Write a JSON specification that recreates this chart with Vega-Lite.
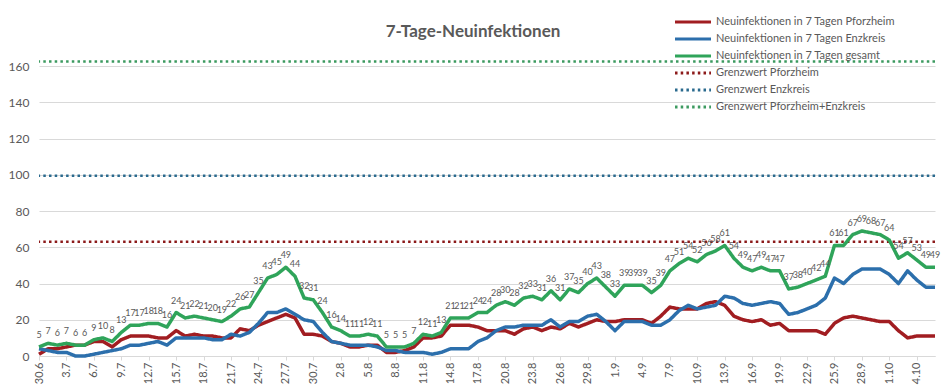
{
  "$schema": "https://vega.github.io/schema/vega-lite/v6.json",
  "width": 896,
  "height": 308,
  "autosize": {"type": "none"},
  "padding": {"left": 39, "top": 48, "right": 7, "bottom": 33},
  "background": "white",
  "title": {"text": "7-Tage-Neuinfektionen", "fontSize": 17, "font": "Lato", "fontWeight": "bold", "color": "#595959", "anchor": "middle", "frame": "group", "dx": -14, "offset": -28},
  "config": {
    "view": {"stroke": null},
    "font": "Lato",
    "axis": {"labelFont": "Lato", "labelColor": "#595959", "labelFontSize": 11, "title": null}
  },
  "datasets": {
    "main": [
      {"d":"30.6","P":1,"E":4,"G":5},{"d":"1.7","P":4,"E":3,"G":7},{"d":"2.7","P":4,"E":2,"G":6},{"d":"3.7","P":5,"E":2,"G":7},{"d":"4.7","P":6,"E":0,"G":6},{"d":"5.7","P":6,"E":0,"G":6},{"d":"6.7","P":8,"E":1,"G":9},{"d":"7.7","P":8,"E":2,"G":10},{"d":"8.7","P":5,"E":3,"G":8},{"d":"9.7","P":9,"E":4,"G":13},
      {"d":"10.7","P":11,"E":6,"G":17},{"d":"11.7","P":11,"E":6,"G":17},{"d":"12.7","P":11,"E":7,"G":18},{"d":"13.7","P":10,"E":8,"G":18},{"d":"14.7","P":10,"E":6,"G":16},{"d":"15.7","P":14,"E":10,"G":24},{"d":"16.7","P":11,"E":10,"G":21},{"d":"17.7","P":12,"E":10,"G":22},{"d":"18.7","P":11,"E":10,"G":21},{"d":"19.7","P":11,"E":9,"G":20},
      {"d":"20.7","P":10,"E":9,"G":19},{"d":"21.7","P":10,"E":12,"G":22},{"d":"22.7","P":15,"E":11,"G":26},{"d":"23.7","P":14,"E":13,"G":27},{"d":"24.7","P":17,"E":18,"G":35},{"d":"25.7","P":19,"E":24,"G":43},{"d":"26.7","P":21,"E":24,"G":45},{"d":"27.7","P":23,"E":26,"G":49},{"d":"28.7","P":21,"E":23,"G":44},{"d":"29.7","P":12,"E":20,"G":32},
      {"d":"30.7","P":12,"E":19,"G":31},{"d":"31.7","P":11,"E":13,"G":24},{"d":"1.8","P":8,"E":8,"G":16},{"d":"2.8","P":7,"E":7,"G":14},{"d":"3.8","P":5,"E":6,"G":11},{"d":"4.8","P":5,"E":6,"G":11},{"d":"5.8","P":6,"E":6,"G":12},{"d":"6.8","P":6,"E":5,"G":11},{"d":"7.8","P":2,"E":3,"G":5},{"d":"8.8","P":2,"E":3,"G":5},
      {"d":"9.8","P":3,"E":2,"G":5},{"d":"10.8","P":5,"E":2,"G":7},{"d":"11.8","P":10,"E":2,"G":12},{"d":"12.8","P":10,"E":1,"G":11},{"d":"13.8","P":11,"E":2,"G":13},{"d":"14.8","P":17,"E":4,"G":21},{"d":"15.8","P":17,"E":4,"G":21},{"d":"16.8","P":17,"E":4,"G":21},{"d":"17.8","P":16,"E":8,"G":24},{"d":"18.8","P":14,"E":10,"G":24},
      {"d":"19.8","P":14,"E":14,"G":28},{"d":"20.8","P":14,"E":16,"G":30},{"d":"21.8","P":12,"E":16,"G":28},{"d":"22.8","P":15,"E":17,"G":32},{"d":"23.8","P":16,"E":17,"G":33},{"d":"24.8","P":14,"E":17,"G":31},{"d":"25.8","P":16,"E":20,"G":36},{"d":"26.8","P":15,"E":16,"G":31},{"d":"27.8","P":18,"E":19,"G":37},{"d":"28.8","P":16,"E":19,"G":35},
      {"d":"29.8","P":18,"E":22,"G":40},{"d":"30.8","P":20,"E":23,"G":43},{"d":"31.8","P":19,"E":19,"G":38},{"d":"1.9","P":19,"E":14,"G":33},{"d":"2.9","P":20,"E":19,"G":39},{"d":"3.9","P":20,"E":19,"G":39},{"d":"4.9","P":20,"E":19,"G":39},{"d":"5.9","P":18,"E":17,"G":35},{"d":"6.9","P":22,"E":17,"G":39},{"d":"7.9","P":27,"E":20,"G":47},
      {"d":"8.9","P":26,"E":25,"G":51},{"d":"9.9","P":26,"E":28,"G":54},{"d":"10.9","P":26,"E":26,"G":52},{"d":"11.9","P":29,"E":27,"G":56},{"d":"12.9","P":30,"E":28,"G":58},{"d":"13.9","P":28,"E":33,"G":61},{"d":"14.9","P":22,"E":32,"G":54},{"d":"15.9","P":20,"E":29,"G":49},{"d":"16.9","P":19,"E":28,"G":47},{"d":"17.9","P":20,"E":29,"G":49},
      {"d":"18.9","P":17,"E":30,"G":47},{"d":"19.9","P":18,"E":29,"G":47},{"d":"20.9","P":14,"E":23,"G":37},{"d":"21.9","P":14,"E":24,"G":38},{"d":"22.9","P":14,"E":26,"G":40},{"d":"23.9","P":14,"E":28,"G":42},{"d":"24.9","P":12,"E":32,"G":44},{"d":"25.9","P":18,"E":43,"G":61},{"d":"26.9","P":21,"E":40,"G":61},{"d":"27.9","P":22,"E":45,"G":67},
      {"d":"28.9","P":21,"E":48,"G":69},{"d":"29.9","P":20,"E":48,"G":68},{"d":"30.9","P":19,"E":48,"G":67},{"d":"1.10","P":19,"E":45,"G":64},{"d":"2.10","P":14,"E":40,"G":54},{"d":"3.10","P":10,"E":47,"G":57},{"d":"4.10","P":11,"E":42,"G":53},{"d":"5.10","P":11,"E":38,"G":49},{"d":"6.10","P":11,"E":38,"G":49}
    ],
    "grenz": [
      {"s": "GP", "v": 63},
      {"s": "GE", "v": 99.5},
      {"s": "GG", "v": 162.5}
    ]
  },
  "layer": [
    {
      "data": {"name": "grenz"},
      "mark": {"type": "rule", "strokeWidth": 2.5},
      "encoding": {
        "y": {"field": "v", "type": "quantitative", "scale": {"domain": [0, 170], "nice": false},
              "axis": {"values": [0, 20, 40, 60, 80, 100, 120, 140, 160], "labelOverlap": false, "grid": true, "gridColor": "#D9D9D9", "domain": false, "ticks": false, "labelPadding": 10, "labelFontSize": 12}},
        "color": {"field": "s", "type": "nominal",
                  "scale": {"domain": ["P", "E", "G", "GP", "GE", "GG"], "range": ["#A11D21", "#2C6FAC", "#2FA45A", "#8C1A1A", "#2A6A8E", "#3C9A60"]},
                  "legend": {"title": null, "orient": "none", "legendX": 645, "legendY": -35, "symbolType": "M-2.5,0L2.5,0", "symbolSize": 207, "symbolStrokeWidth": 3, "labelFontSize": 11, "labelLimit": 300, "labelColor": "#595959", "labelFont": "Lato", "rowPadding": 2, "labelOffset": 14,
                             "labelExpr": "datum.label == 'P' ? 'Neuinfektionen in 7 Tagen Pforzheim' : datum.label == 'E' ? 'Neuinfektionen in 7 Tagen Enzkreis' : datum.label == 'G' ? 'Neuinfektionen in 7 Tagen gesamt' : datum.label == 'GP' ? 'Grenzwert Pforzheim' : datum.label == 'GE' ? 'Grenzwert Enzkreis' : 'Grenzwert Pforzheim+Enzkreis'"}},
        "strokeDash": {"field": "s", "type": "nominal",
                       "scale": {"domain": ["P", "E", "G", "GP", "GE", "GG"], "range": [[1, 0], [1, 0], [1, 0], [2.5, 3.2], [2.5, 3.2], [2.5, 3.2]]}}
      }
    },
    {
      "data": {"name": "main"},
      "transform": [{"fold": ["P", "E", "G"], "as": ["s", "v"]}],
      "mark": {"type": "line", "strokeWidth": 3.5, "strokeJoin": "round"},
      "encoding": {
        "x": {"field": "d", "type": "ordinal", "sort": null, "scale": {"type": "point", "padding": 0},
              "axis": {"values": ["30.6","3.7","6.7","9.7","12.7","15.7","18.7","21.7","24.7","27.7","30.7","2.8","5.8","8.8","11.8","14.8","17.8","20.8","23.8","26.8","29.8","1.9","4.9","7.9","10.9","13.9","16.9","19.9","22.9","25.9","28.9","1.10","4.10"],
                       "labelAngle": -90, "domainColor": "#D9D9D9", "tickColor": "#D9D9D9", "tickSize": 4, "labelPadding": 2, "grid": false}},
        "y": {"field": "v", "type": "quantitative",
              "axis": {"values": [0, 20, 40, 60, 80, 100, 120, 140, 160], "labelOverlap": false, "grid": true, "gridColor": "#D9D9D9", "domain": false, "ticks": false, "labelPadding": 10, "labelFontSize": 12}},
        "color": {"field": "s", "type": "nominal"},
        "strokeDash": {"field": "s", "type": "nominal"},
        "order": {"value": null}
      }
    },
    {
      "data": {"name": "main"},
      "mark": {"type": "text", "dy": -12, "fontSize": 9, "color": "#595959", "font": "Lato"},
      "encoding": {
        "x": {"field": "d", "type": "ordinal", "sort": null},
        "y": {"field": "G", "type": "quantitative",
              "axis": {"values": [0, 20, 40, 60, 80, 100, 120, 140, 160], "labelOverlap": false, "grid": true, "gridColor": "#D9D9D9", "domain": false, "ticks": false, "labelPadding": 10, "labelFontSize": 12}},
        "text": {"field": "G", "type": "quantitative"}
      }
    }
  ]
}
